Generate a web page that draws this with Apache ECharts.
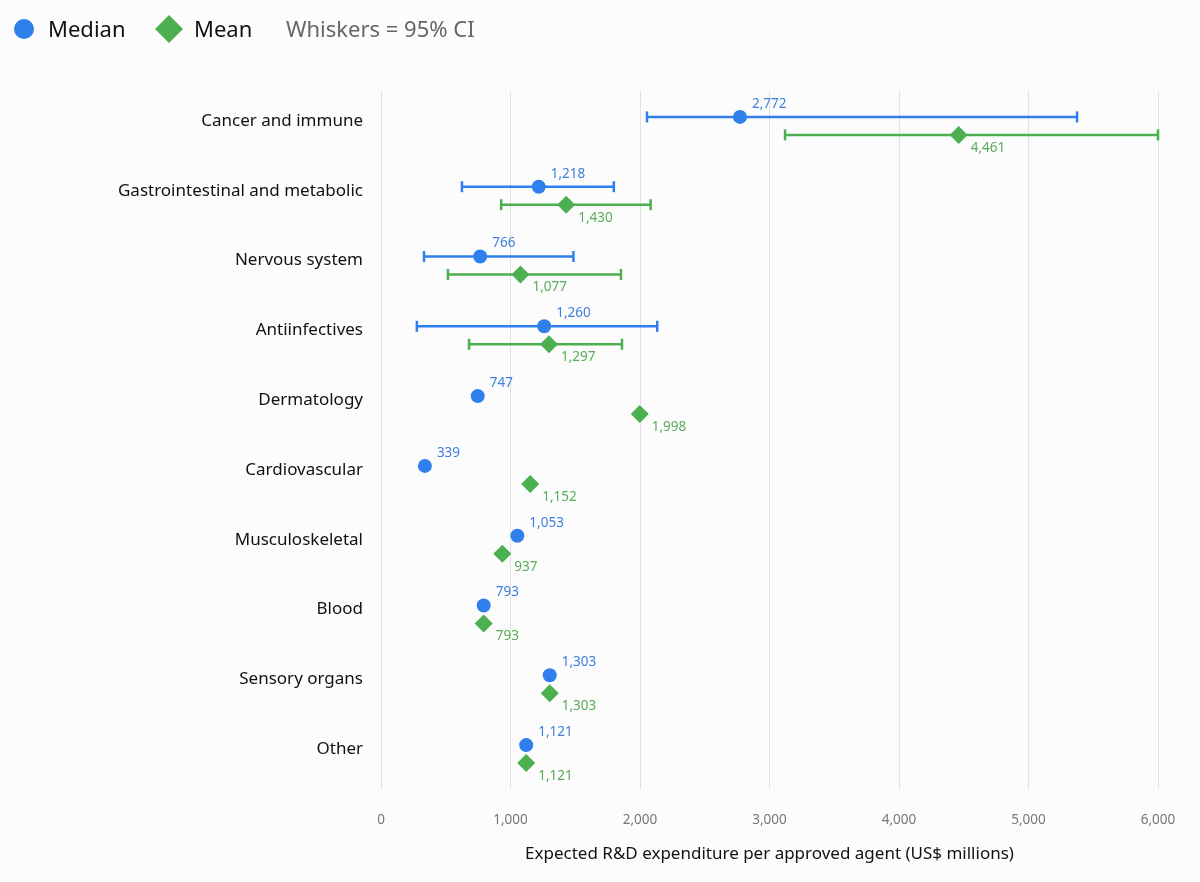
<!DOCTYPE html>
<html>
<head>
<meta charset="utf-8">
<title>R&amp;D expenditure per approved agent</title>
<script src="https://cdn.jsdelivr.net/npm/echarts@6/dist/echarts.min.js"></script>
<style>
  html, body { margin: 0; padding: 0; background: #fcfcfc; }
  #chart { width: 1200px; height: 882px; }
</style>
</head>
<body>
<div id="chart"></div>
<script>
// categories, top to bottom
var categories = ['Cancer and immune', 'Gastrointestinal and metabolic', 'Nervous system', 'Antiinfectives',
  'Dermatology', 'Cardiovascular', 'Musculoskeletal', 'Blood', 'Sensory organs', 'Other'];
var medianVals = [2772, 1218, 766, 1260, 747, 339, 1053, 793, 1303, 1121];
var meanVals = [4461, 1430, 1077, 1297, 1998, 1152, 937, 793, 1303, 1121];
// 95% CI whiskers (only the first four groups have them)
var medianLow = [2054, 625, 332, 277];
var medianHigh = [5375, 1798, 1486, 2133];
var meanLow = [3120, 928, 517, 680];
var meanHigh = [6000, 2082, 1853, 1861];
var xTicks = [0, 1000, 2000, 3000, 4000, 5000, 6000];

var blue = '#2f80ed', blueText = '#3f7fdc';
var green = '#4caf50', greenText = '#5aab5a';
var font = 'Noto Sans';

function fmt(v) { return v.toLocaleString('en-US'); }

function whiskerData(lo, hi) {
  var out = [];
  for (var i = 0; i < lo.length; i++) out.push([lo[i], hi[i], i]);
  return out;
}

function whiskerRender(dy, color) {
  return function (params, api) {
    var a = api.coord([api.value(0), api.value(2)]);
    var b = api.coord([api.value(1), api.value(2)]);
    var y = a[1] + dy;
    var st = { stroke: color, lineWidth: 2.5 };
    return {
      type: 'group',
      children: [
        { type: 'line', shape: { x1: a[0], y1: y, x2: b[0], y2: y }, style: st },
        { type: 'line', shape: { x1: a[0], y1: y - 5.5, x2: a[0], y2: y + 5.5 }, style: st },
        { type: 'line', shape: { x1: b[0], y1: y - 5.5, x2: b[0], y2: y + 5.5 }, style: st }
      ]
    };
  };
}

var chart = echarts.init(document.getElementById('chart'));

var option = {
  backgroundColor: '#fcfcfc',
  textStyle: { fontFamily: font },
  animation: false,
  grid: { left: 381, right: 42, top: 91, bottom: 93 },
  graphic: [
    { type: 'circle', shape: { cx: 24, cy: 29, r: 10 }, style: { fill: blue } },
    { type: 'text', left: 48, top: 20, style: { text: 'Median', fontSize: 22, fill: '#111', fontFamily: font } },
    { type: 'polygon', shape: { points: [[169, 15], [183, 29], [169, 43], [155, 29]] }, style: { fill: green } },
    { type: 'text', left: 194, top: 20, style: { text: 'Mean', fontSize: 22, fill: '#111', fontFamily: font } },
    { type: 'text', left: 286, top: 20, style: { text: 'Whiskers = 95% CI', fontSize: 22, fill: '#666', fontFamily: font } }
  ],
  xAxis: {
    type: 'value',
    min: xTicks[0],
    max: xTicks[xTicks.length - 1],
    interval: 1000,
    name: 'Expected R&D expenditure per approved agent (US$ millions)',
    nameLocation: 'middle',
    nameGap: 57,
    nameTextStyle: { fontSize: 17, color: '#111', fontFamily: font },
    axisLine: { show: false },
    axisTick: { show: false },
    axisLabel: { fontSize: 13.5, color: '#777', margin: 24, formatter: fmt },
    splitLine: { show: true, lineStyle: { color: '#e2e2e2', width: 1 } }
  },
  yAxis: {
    type: 'category',
    data: categories,
    inverse: true,
    axisLine: { show: false },
    axisTick: { show: false },
    splitLine: { show: false },
    axisLabel: { fontSize: 17, color: '#111', margin: 18, verticalAlign: 'bottom', lineHeight: 10 }
  },
  series: [
    {
      name: 'Median CI',
      type: 'custom',
      renderItem: whiskerRender(-9, blue),
      encode: { x: [0, 1], y: 2 },
      data: whiskerData(medianLow, medianHigh),
      z: 2
    },
    {
      name: 'Mean CI',
      type: 'custom',
      renderItem: whiskerRender(9, green),
      encode: { x: [0, 1], y: 2 },
      data: whiskerData(meanLow, meanHigh),
      z: 2
    },
    {
      name: 'Median',
      type: 'scatter',
      symbol: 'circle',
      symbolSize: 14,
      symbolOffset: [0, -9],
      itemStyle: { color: blue, opacity: 1 },
      data: medianVals,
      z: 3,
      label: {
        show: true, position: 'right', distance: 5, offset: [0, -13],
        color: blueText, fontSize: 13.5,
        formatter: function (p) { return fmt(p.value); }
      }
    },
    {
      name: 'Mean',
      type: 'scatter',
      symbol: 'diamond',
      symbolSize: [18, 18],
      symbolOffset: [0, 9],
      itemStyle: { color: green, opacity: 1 },
      data: meanVals,
      z: 3,
      label: {
        show: true, position: 'right', distance: 3, offset: [0, 13],
        color: greenText, fontSize: 13.5,
        formatter: function (p) { return fmt(p.value); }
      }
    }
  ]
};

chart.setOption(option);
</script>
</body>
</html>
